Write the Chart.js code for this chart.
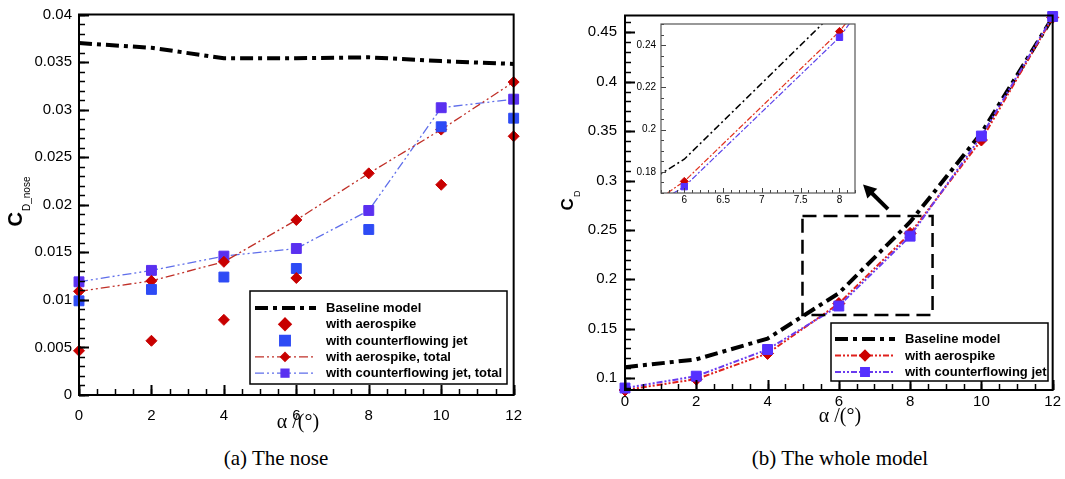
<!DOCTYPE html>
<html><head><meta charset="utf-8">
<script src="https://cdn.jsdelivr.net/npm/chart.js@4.4.1/dist/chart.umd.min.js"></script>
<style>
html,body{margin:0;padding:0;background:#fff;}
#wrap{position:relative;width:1065px;height:479px;overflow:hidden;background:#fff;}
canvas{position:absolute;display:block;}
.cap{position:absolute;top:446px;font:21px "Liberation Serif","Times New Roman",serif;color:#000;white-space:nowrap;transform:translateX(-50%);}
</style></head><body>
<div id="wrap">
<canvas id="c1" width="535" height="440" style="left:0;top:0;width:535px;height:440px"></canvas>
<canvas id="c2" width="530" height="440" style="left:535px;top:0;width:530px;height:440px"></canvas>
<canvas id="c3" width="265" height="205" style="left:598px;top:14px;width:265px;height:205px"></canvas>
<div class="cap" style="left:276px">(a) The nose</div>
<div class="cap" style="left:840px">(b) The whole model</div>
</div>
<script>
// ---------- data ----------
const alphaNose = [0, 2, 4, 6, 8, 10, 12];
const baselineNose = [0.0370, 0.0365, 0.0354, 0.0354, 0.0355, 0.0351, 0.0348];
const aeroNose = [0.00465, 0.0057, 0.0079, 0.0123, null, 0.0221, 0.0272];
const cfjNose = [0.0099, 0.0111, 0.0124, 0.0133, 0.0174, 0.0282, 0.0291];
const aeroNoseTotal = [0.0109, 0.0120, 0.0140, 0.0184, 0.0233, 0.0279, 0.0329];
const cfjNoseTotal = [0.0119, 0.0131, 0.0146, 0.0154, 0.0194, 0.0302, 0.0311];

const alphaModel = [0, 2, 4, 6, 8, 10, 12];
const baselineModel = [0.111, 0.119, 0.140, 0.186, 0.258, 0.348, 0.465];
const aeroModel = [0.088, 0.099, 0.125, 0.1755, 0.2465, 0.341, 0.465];
const cfjModel = [0.090, 0.102, 0.129, 0.173, 0.2437, 0.345, 0.466];

const noseXTicks = [0, 2, 4, 6, 8, 10, 12];
const noseYTicks = [0, 0.005, 0.01, 0.015, 0.02, 0.025, 0.03, 0.035, 0.04];
const modelXTicks = [0, 2, 4, 6, 8, 10, 12];
const modelYTicks = [0.1, 0.15, 0.2, 0.25, 0.3, 0.35, 0.4, 0.45];
const insetXTicks = [6, 6.5, 7, 7.5, 8];
const insetYTicks = [0.18, 0.2, 0.22, 0.24];

const legendNose = ['Baseline model', 'with aerospike', 'with counterflowing jet', 'with aerospike, total', 'with counterflowing jet, total'];
const legendModel = ['Baseline model', 'with aerospike', 'with counterflowing jet'];
const xTitle = 'α /(°)';
const captionA = '(a) The nose';
const captionB = '(b) The whole model';

// zoom-box annotation (data units) and arrow
const zoomBox = [4.98, 0.264, 8.63, 0.164];
const zoomArrow = [7.38, 0.271, 6.68, 0.296];

// ---------- helpers ----------
const xy = (xs, ys) => xs.map((x, i) => ({x: x, y: ys[i]}));
function stepValues(min, max, step) {
  const out = [];
  const n0 = Math.ceil(min / step - 1e-9), n1 = Math.floor(max / step + 1e-9);
  for (let n = n0; n <= n1; n++) out.push(+(n * step).toFixed(10));
  return out;
}

const axisDecor = {
  id: 'axisDecor',
  afterDatasetsDraw(chart, args, o) {
    const {ctx, chartArea: a, scales: {x, y}} = chart;
    ctx.save();
    ctx.setLineDash([]);
    ctx.strokeStyle = o.color;
    ctx.lineWidth = o.minorWidth;
    ctx.beginPath();
    stepValues(x.min, x.max, o.xMinor).forEach(v => {
      const p = Math.round(x.getPixelForValue(v)) + 0.5;
      ctx.moveTo(p, a.bottom); ctx.lineTo(p, a.bottom - o.minorLen);
    });
    stepValues(y.min, y.max, o.yMinor).forEach(v => {
      const p = Math.round(y.getPixelForValue(v)) + 0.5;
      ctx.moveTo(a.left, p); ctx.lineTo(a.left + o.minorLen, p);
    });
    ctx.stroke();
    ctx.lineWidth = o.majorWidth;
    ctx.beginPath();
    x.ticks.forEach(t => {
      const p = Math.round(x.getPixelForValue(t.value)) + 0.5;
      ctx.moveTo(p, a.bottom); ctx.lineTo(p, a.bottom - o.majorLen);
    });
    y.ticks.forEach(t => {
      const p = Math.round(y.getPixelForValue(t.value)) + 0.5;
      ctx.moveTo(a.left, p); ctx.lineTo(a.left + o.majorLen, p);
    });
    ctx.stroke();
    ctx.lineWidth = o.borderWidth;
    ctx.strokeStyle = o.borderColor;
    ctx.strokeRect(a.left, a.top, a.right - a.left, a.bottom - a.top);
    ctx.restore();
  }
};

const boxLegend = {
  id: 'boxLegend',
  afterDraw(chart, args, o) {
    if (!o || !o.show) return;
    const ctx = chart.ctx;
    ctx.save();
    ctx.fillStyle = '#fff';
    ctx.fillRect(o.x, o.y, o.w, o.h);
    ctx.setLineDash([]);
    ctx.lineWidth = o.borderWidth;
    ctx.strokeStyle = '#000';
    ctx.strokeRect(o.x, o.y, o.w, o.h);
    chart.data.datasets.forEach((ds, i) => {
      const cy = o.y + o.row0 + i * o.rowGap;
      if (ds.showLine !== false) {
        ctx.strokeStyle = ds.borderColor;
        ctx.lineWidth = ds.borderWidth;
        ctx.setLineDash(ds.borderDash || []);
        ctx.beginPath();
        ctx.moveTo(o.x + o.s0, cy); ctx.lineTo(o.x + o.s1, cy);
        ctx.stroke();
      }
      if (ds.pointRadius > 0) {
        ctx.setLineDash([]);
        ctx.fillStyle = ds.pointBackgroundColor;
        ctx.strokeStyle = ds.pointBorderColor;
        Chart.helpers.drawPoint(ctx, {pointStyle: ds.pointStyle, radius: ds.pointRadius * o.pointScale, borderWidth: 1, rotation: 0}, o.x + o.pm, cy);
      }
      ctx.fillStyle = '#000';
      ctx.font = o.font;
      ctx.textAlign = 'left';
      ctx.textBaseline = 'middle';
      ctx.fillText(ds.label, o.x + o.tx, cy + 0.5);
    });
    ctx.restore();
  }
};

const axisTitles = {
  id: 'axisTitles',
  afterDraw(chart, args, o) {
    if (!o || !o.show) return;
    const ctx = chart.ctx;
    ctx.save();
    ctx.fillStyle = '#000';
    ctx.font = o.xFont;
    ctx.textAlign = 'center';
    ctx.textBaseline = 'middle';
    ctx.fillText(o.xText, o.xPos[0], o.xPos[1]);
    ctx.translate(o.yPos[0], o.yPos[1]);
    ctx.rotate(-Math.PI / 2);
    ctx.font = o.yFont;
    const w1 = ctx.measureText(o.yMain).width;
    ctx.font = o.ySubFont;
    const w2 = ctx.measureText(o.ySub).width;
    const start = -(w1 + w2) / 2;
    ctx.textAlign = 'left';
    ctx.textBaseline = 'alphabetic';
    ctx.font = o.yFont;
    ctx.fillText(o.yMain, start, 0);
    ctx.font = o.ySubFont;
    ctx.fillText(o.ySub, start + w1 + 1, o.subDrop);
    ctx.restore();
  }
};

const callout = {
  id: 'callout',
  afterDatasetsDraw(chart, args, o) {
    if (!o || !o.show) return;
    const {ctx, scales: {x, y}} = chart;
    ctx.save();
    ctx.strokeStyle = '#000';
    ctx.lineWidth = 2.5;
    ctx.setLineDash([14, 7]);
    const x0 = x.getPixelForValue(o.box[0]), y0 = y.getPixelForValue(o.box[1]);
    const x1 = x.getPixelForValue(o.box[2]), y1 = y.getPixelForValue(o.box[3]);
    ctx.strokeRect(x0, y0, x1 - x0, y1 - y0);
    ctx.setLineDash([]);
    const ax = x.getPixelForValue(o.arrow[0]), ay = y.getPixelForValue(o.arrow[1]);
    const bx = x.getPixelForValue(o.arrow[2]), by = y.getPixelForValue(o.arrow[3]);
    const ang = Math.atan2(by - ay, bx - ax);
    const hl = 13, hw = 7;
    ctx.lineWidth = 4;
    ctx.beginPath();
    ctx.moveTo(ax, ay);
    ctx.lineTo(bx - Math.cos(ang) * hl * 0.8, by - Math.sin(ang) * hl * 0.8);
    ctx.stroke();
    ctx.fillStyle = '#000';
    ctx.beginPath();
    ctx.moveTo(bx, by);
    ctx.lineTo(bx - Math.cos(ang) * hl - Math.sin(ang) * hw, by - Math.sin(ang) * hl + Math.cos(ang) * hw);
    ctx.lineTo(bx - Math.cos(ang) * hl + Math.sin(ang) * hw, by - Math.sin(ang) * hl - Math.cos(ang) * hw);
    ctx.closePath();
    ctx.fill();
    ctx.restore();
  }
};

function scaleOpts(min, max, tickVals, fontPx, pad, fit, isX) {
  return {
    type: 'linear', min: min, max: max,
    afterBuildTicks: s => { s.ticks = tickVals.map(v => ({value: v})); },
    afterFit: s => { if (isX) s.height = fit; else s.width = fit; },
    grid: {display: false, drawTicks: false},
    border: {display: false},
    ticks: {color: '#000', font: {family: 'Liberation Sans', size: fontPx, lineHeight: 1}, padding: pad, maxRotation: 0, autoSkip: false, callback: v => String(v)}
  };
}

function baseOptions(padding, xs, ys, extra) {
  return Object.assign({
    responsive: false, animation: false, devicePixelRatio: 1,
    layout: {padding: padding},
    scales: {x: xs, y: ys}
  }, extra);
}

const BLACK_DASH = [13, 5, 4, 5];
const DDOT = [9, 3, 2, 3, 2, 3];

// ---------- (a) nose chart ----------
new Chart(document.getElementById('c1'), {
  type: 'line',
  data: {datasets: [
    {label: legendNose[0], data: xy(alphaNose, baselineNose), borderColor: '#000', borderWidth: 4, borderDash: BLACK_DASH, pointRadius: 0, tension: 0, clip: false},
    {label: legendNose[1], data: xy(alphaNose, aeroNose), showLine: false, pointStyle: 'rectRot', pointRadius: 5.5, pointBackgroundColor: '#C80000', pointBorderColor: '#C80000', borderColor: '#C80000', pointBorderWidth: 1, clip: false},
    {label: legendNose[2], data: xy(alphaNose, cfjNose), showLine: false, pointStyle: 'rect', pointRadius: 7, pointBackgroundColor: '#2E4BF5', pointBorderColor: '#2E4BF5', borderColor: '#2E4BF5', pointBorderWidth: 1, clip: false},
    {label: legendNose[3], data: xy(alphaNose, aeroNoseTotal), borderColor: '#C03028', borderWidth: 1.3, borderDash: DDOT, pointStyle: 'rectRot', pointRadius: 5.5, pointBackgroundColor: '#C80000', pointBorderColor: '#C80000', pointBorderWidth: 1, tension: 0, clip: false},
    {label: legendNose[4], data: xy(alphaNose, cfjNoseTotal), borderColor: '#5F6EEA', borderWidth: 1.3, borderDash: DDOT, pointStyle: 'rect', pointRadius: 7, pointBackgroundColor: '#5A30F0', pointBorderColor: '#5A30F0', pointBorderWidth: 1, tension: 0, clip: false}
  ]},
  options: baseOptions({left: 0, right: 18, top: 8, bottom: 0},
    scaleOpts(0, 12, noseXTicks, 15, 13, 45, true),
    scaleOpts(0, 0.04, noseYTicks, 15, 7, 79, false),
    {plugins: {
      legend: {display: false}, tooltip: {enabled: false},
      axisDecor: {color: '#000', borderColor: '#000', borderWidth: 2, majorWidth: 2, minorWidth: 1.5, majorLen: 10, minorLen: 6, xMinor: 0.5, yMinor: 0.001},
      boxLegend: {show: true, x: 250, y: 291, w: 257, h: 93, row0: 17, rowGap: 16.3, s0: 5, s1: 66, pm: 35, tx: 76, pointScale: 0.8, borderWidth: 1.5, font: 'bold 13px "Liberation Sans", Arial, sans-serif'},
      axisTitles: {show: true, xText: xTitle, xFont: '20px "Liberation Serif", serif', xPos: [298, 423], yMain: 'C', ySub: 'D_nose', yFont: 'bold 20px "Liberation Sans", Arial, sans-serif', ySubFont: '10px "Liberation Sans", Arial, sans-serif', yPos: [22, 202], subDrop: 8}
    }}),
  plugins: [axisDecor, boxLegend, axisTitles]
});

// ---------- (b) whole model chart ----------
new Chart(document.getElementById('c2'), {
  type: 'line',
  data: {datasets: [
    {label: legendModel[0], data: xy(alphaModel, baselineModel), borderColor: '#000', borderWidth: 4, borderDash: BLACK_DASH, pointRadius: 0, tension: 0, order: 2, clip: false},
    {label: legendModel[1], data: xy(alphaModel, aeroModel), borderColor: '#E0201C', borderWidth: 2, borderDash: [6, 2, 2, 2, 2, 2], pointStyle: 'rectRot', pointRadius: 6, pointBackgroundColor: '#CC0000', pointBorderColor: '#CC0000', pointBorderWidth: 1, tension: 0, order: 1, clip: false},
    {label: legendModel[2], data: xy(alphaModel, cfjModel), borderColor: '#6A3BEF', borderWidth: 2, borderDash: [6, 2, 2, 2, 2, 2], pointStyle: 'rect', pointRadius: 7, pointBackgroundColor: '#5530FF', pointBorderColor: '#5530FF', pointBorderWidth: 1, tension: 0, order: 0, clip: false}
  ]},
  options: baseOptions({left: 0, right: 9, top: 11, bottom: 0},
    scaleOpts(0, 12, modelXTicks, 15, 4, 50, true),
    scaleOpts(0.088, 0.467, modelYTicks, 15, 8, 90, false),
    {plugins: {
      legend: {display: false}, tooltip: {enabled: false},
      axisDecor: {color: '#000', borderColor: '#000', borderWidth: 2, majorWidth: 2, minorWidth: 1.5, majorLen: 10, minorLen: 6, xMinor: 0.5, yMinor: 0.01},
      boxLegend: {show: true, x: 296, y: 323, w: 217, h: 58, row0: 16, rowGap: 16.5, s0: 4, s1: 64, pm: 34, tx: 74, pointScale: 0.8, borderWidth: 1.5, font: 'bold 13px "Liberation Sans", Arial, sans-serif'},
      axisTitles: {show: true, xText: xTitle, xFont: '20px "Liberation Serif", serif', xPos: [305, 417], yMain: 'C', ySub: 'D', yFont: 'bold 17px "Liberation Sans", Arial, sans-serif', ySubFont: '9px "Liberation Sans", Arial, sans-serif', yPos: [38, 201], subDrop: 7},
      callout: {show: true, box: zoomBox, arrow: zoomArrow}
    }}),
  plugins: [axisDecor, boxLegend, axisTitles, callout]
});

// ---------- inset ----------
new Chart(document.getElementById('c3'), {
  type: 'line',
  data: {datasets: [
    {label: legendModel[0], data: xy(alphaModel, baselineModel), borderColor: '#000', borderWidth: 1.5, borderDash: [7, 3, 2, 3], pointRadius: 0, tension: 0, order: 2},
    {label: legendModel[1], data: xy(alphaModel, aeroModel), borderColor: '#E0301C', borderWidth: 1.2, borderDash: [6, 2, 2, 2], pointStyle: 'rectRot', pointRadius: 4, pointBackgroundColor: '#CC0000', pointBorderColor: '#CC0000', pointBorderWidth: 1, tension: 0, order: 1},
    {label: legendModel[2], data: xy(alphaModel, cfjModel), borderColor: '#5A40EA', borderWidth: 1.2, borderDash: [6, 2, 2, 2], pointStyle: 'rect', pointRadius: 4.5, pointBackgroundColor: '#5530FF', pointBorderColor: '#5530FF', pointBorderWidth: 1, tension: 0, order: 0}
  ]},
  options: baseOptions({left: 0, right: 8, top: 9, bottom: 0},
    scaleOpts(5.7, 8.2, insetXTicks, 10, 2, 26, true),
    scaleOpts(0.17, 0.25, insetYTicks, 10, 5, 63, false),
    {plugins: {
      legend: {display: false}, tooltip: {enabled: false},
      axisDecor: {color: '#444', borderColor: '#555', borderWidth: 1.2, majorWidth: 1, minorWidth: 1, majorLen: 5, minorLen: 3, xMinor: 0.1, yMinor: 0.005}
    }}),
  plugins: [axisDecor]
});
</script>
</body></html>
